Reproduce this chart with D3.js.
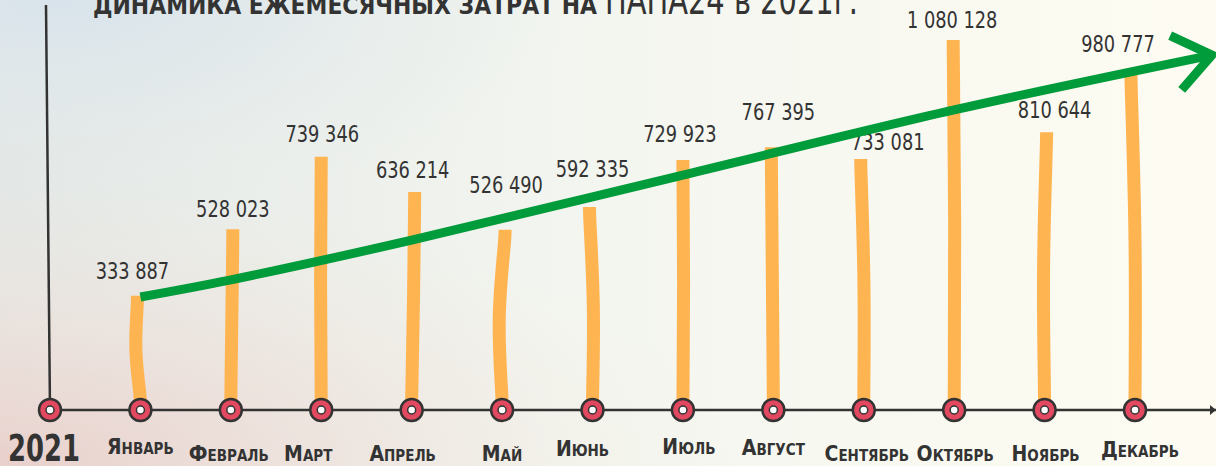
<!DOCTYPE html>
<html>
<head>
<meta charset="utf-8">
<script src="https://cdn.jsdelivr.net/npm/d3@7"></script>
<style>
  html, body { margin: 0; padding: 0; background: #fbf8f0; }
  svg { display: block; }
</style>
</head>
<body>
<div id="chart"></div>
<script>
// data
const months = ["Январь", "Февраль", "Март", "Апрель", "Май", "Июнь",
  "Июль", "Август", "Сентябрь", "Октябрь", "Ноябрь", "Декабрь"];
const values = [333887, 528023, 739346, 636214, 526490, 592335,
  729923, 767395, 733081, 1080128, 810644, 980777];
const yearLabel = "2021";
const titleMain = "ДИНАМИКА ЕЖЕМЕСЯЧНЫХ ЗАТРАТ НА";
const titleTail = "ПАПА24 в 2021г.";
// hand-drawn trend arrow, [month index, value]
const trend = [[1, 330000], [2, 380000], [4, 496000], [7, 686000], [10, 876000], [12.85, 1036000]];

// hand placement of labels (px offsets)
const valueDx = [-8, 2, 1, 1, 4, 0, -3, 5, 24, -2, 10, -17];
const valueDy = [-17, -12, -15, -14, -37, -30, -18, -27, -9, -12, -14, -22];
const monthDx = [0, -2, -13, -9, 0, -10, 6, 0, 3, 1, 1, 5];
const monthBase = [454, 461, 461, 461, 461, 456, 454, 455, 461, 461, 461, 457];
const barBend = [-6, 1, -1, 2, -5, 2, 1, -1, 1, 1, -2, 1];
const barTopDx = [-3, 2, 0, 3, 3, -3, 0, -2, -3, -1, 2, -4];

const width = 1216, height = 466;
const fmt = d3.formatLocale({ decimal: ",", thousands: " ", grouping: [3] }).format(",d");

const svg = d3.select("#chart").append("svg")
  .attr("width", width).attr("height", height);

const defs = svg.append("defs");
const bg = defs.append("linearGradient").attr("id", "bg")
  .attr("x1", "0%").attr("x2", "100%").attr("y1", "0%").attr("y2", "0%");
bg.append("stop").attr("offset", "0%").attr("stop-color", "#e3e7e5");
bg.append("stop").attr("offset", "45%").attr("stop-color", "#f2f5ef");
bg.append("stop").attr("offset", "100%").attr("stop-color", "#fefcf2");

const pink = defs.append("radialGradient").attr("id", "pink")
  .attr("cx", "0%").attr("cy", "100%").attr("r", "60%");
pink.append("stop").attr("offset", "0%").attr("stop-color", "#e9d0cc").attr("stop-opacity", 1);
pink.append("stop").attr("offset", "100%").attr("stop-color", "#f6e9df").attr("stop-opacity", 0);

const blue = defs.append("radialGradient").attr("id", "blue")
  .attr("cx", "5%").attr("cy", "0%").attr("r", "45%");
blue.append("stop").attr("offset", "0%").attr("stop-color", "#d8e3eb").attr("stop-opacity", 1);
blue.append("stop").attr("offset", "100%").attr("stop-color", "#e8eeee").attr("stop-opacity", 0);

svg.append("rect").attr("width", width).attr("height", height).attr("fill", "url(#bg)");
svg.append("rect").attr("width", width).attr("height", height).attr("fill", "url(#blue)");
svg.append("rect").attr("width", width).attr("height", height).attr("fill", "url(#pink)");

const x = d3.scaleLinear().domain([0, 12]).range([50, 1135]);
const y = d3.scaleLinear().domain([0, d3.max(values)]).range([410, 40]);

const font = "'Liberation Sans Narrow', 'DejaVu Sans Condensed', sans-serif";
const ink = "#333333";

// title (cut at top in the original)
svg.append("text")
  .attr("x", 93).attr("y", 14)
  .attr("font-family", "'DejaVu Sans', sans-serif")
  .attr("font-weight", "bold").attr("font-size", 24)
  .attr("textLength", 504).attr("lengthAdjust", "spacingAndGlyphs")
  .attr("fill", ink).text(titleMain);
svg.append("text")
  .attr("x", 605).attr("y", 14)
  .attr("font-family", font).attr("font-size", 40)
  .attr("textLength", 253).attr("lengthAdjust", "spacingAndGlyphs")
  .attr("fill", ink).text(titleTail);

// axes
svg.append("line")
  .attr("x1", 46).attr("y1", 5).attr("x2", x(0)).attr("y2", y(0))
  .attr("stroke", ink).attr("stroke-width", 2.5);
svg.append("line")
  .attr("x1", x(0)).attr("y1", y(0)).attr("x2", width).attr("y2", y(0))
  .attr("stroke", ink).attr("stroke-width", 2.5);
svg.append("path")
  .attr("d", `M${width - 6},${y(0) - 5} L${width},${y(0)} L${width - 6},${y(0) + 5} Z`)
  .attr("fill", ink);

// bars (hand-drawn strokes)
const barLine = d3.line().curve(d3.curveBasis);
svg.append("g").selectAll("path")
  .data(values)
  .join("path")
  .attr("d", (v, i) => {
    const cx = x(i + 1), top = y(v), bottom = y(0) - 4;
    const mid = (top + bottom) / 2;
    return barLine([
      [cx, bottom],
      [cx, bottom - 10],
      [cx + barBend[i], mid],
      [cx + barTopDx[i], top + 10],
      [cx + barTopDx[i], top]
    ]);
  })
  .attr("fill", "none")
  .attr("stroke", "#ffb452")
  .attr("stroke-width", 13);

// value labels, squeezed horizontally like the hand lettering
svg.append("g").selectAll("text")
  .data(values)
  .join("text")
  .attr("transform", (v, i) => `translate(${x(i + 1) + valueDx[i]},${y(v) + valueDy[i]}) scale(0.86,1)`)
  .attr("text-anchor", "middle")
  .attr("font-family", font).attr("font-size", 23)
  .attr("fill", ink)
  .text(v => fmt(v));

// trend arrow
const tLine = d3.line().curve(d3.curveCatmullRom)
  .x(d => x(d[0])).y(d => y(d[1]));
svg.append("path")
  .attr("d", tLine(trend))
  .attr("fill", "none")
  .attr("stroke", "#009b3a")
  .attr("stroke-width", 9);
const tip = trend[trend.length - 1], prev = trend[trend.length - 2];
const tx = x(tip[0]), ty = y(tip[1]);
const ang = Math.atan2(y(prev[1]) - ty, x(prev[0]) - tx);
const armLen = 46, spread = 37 * Math.PI / 180;
svg.append("path")
  .attr("d", `M${tx + armLen * Math.cos(ang + spread)},${ty + armLen * Math.sin(ang + spread)}` +
    ` L${tx},${ty} L${tx + armLen * Math.cos(ang - spread)},${ty + armLen * Math.sin(ang - spread)}`)
  .attr("fill", "none")
  .attr("stroke", "#009b3a")
  .attr("stroke-width", 9)
  .attr("stroke-linejoin", "miter");

// markers
const marks = svg.append("g").selectAll("g")
  .data(d3.range(0, 13))
  .join("g")
  .attr("transform", i => `translate(${x(i)},${y(0)})`);
marks.append("circle").attr("r", 11)
  .attr("fill", "#e2485f").attr("stroke", ink).attr("stroke-width", 2.5);
marks.append("circle").attr("r", 4)
  .attr("fill", "#ffffff").attr("stroke", ink).attr("stroke-width", 1.5);

// month labels (small caps style)
const ml = svg.append("g").selectAll("text")
  .data(months)
  .join("text")
  .attr("x", (m, i) => x(i + 1) + monthDx[i])
  .attr("y", (m, i) => monthBase[i])
  .attr("text-anchor", "middle")
  .attr("font-family", font).attr("font-weight", "bold")
  .attr("fill", ink);
ml.append("tspan").attr("font-size", 21).text(m => m[0]);
ml.append("tspan").attr("font-size", 15).text(m => m.slice(1).toUpperCase());

// year
svg.append("text")
  .attr("x", 8).attr("y", 461)
  .attr("font-family", font).attr("font-weight", "bold")
  .attr("font-size", 38).attr("fill", ink)
  .attr("textLength", 72).attr("lengthAdjust", "spacingAndGlyphs")
  .text(yearLabel);
</script>
</body>
</html>
